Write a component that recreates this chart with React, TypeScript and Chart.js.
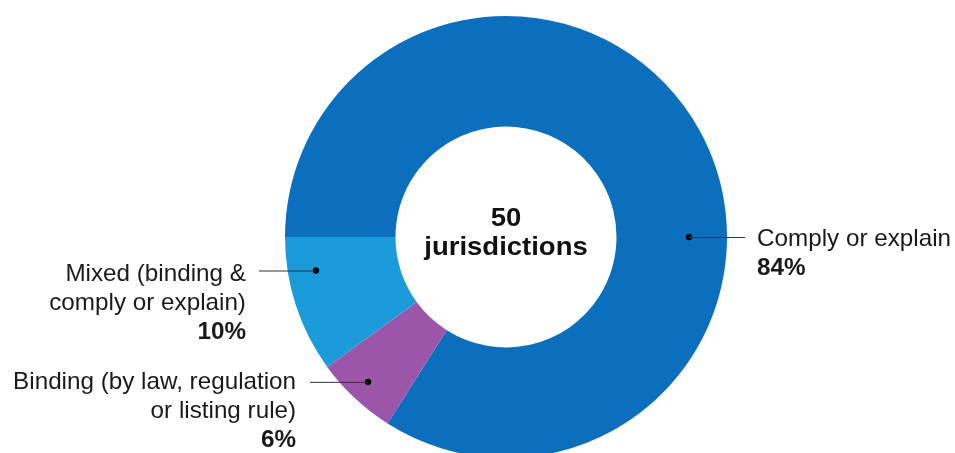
import React, { useEffect, useRef } from "react";
import { Chart, registerables } from "chart.js";

Chart.register(...registerables);

const categories = ["Comply or explain", "Binding", "Mixed"];
const values = [84, 6, 10];
const colors = ["#0B6FBE", "#9B56A9", "#1C9BDB"];
const labelLines = [
  ["Comply or explain"],
  ["Binding (by law, regulation", "or listing rule)"],
  ["Mixed (binding &", "comply or explain)"],
];
const centerLines = ["50", "jurisdictions"];

// label annotation layout: dot polar position (deg from +x, radius px), leader length, side
const labelLayout = [
  { angle: 0, r: 183, len: 56, side: "right", gap: 12, firstDy: 9 },
  { angle: 133.6, r: 200, len: 58, side: "left", gap: 14, firstDy: 7 },
  { angle: 170, r: 193, len: 57, side: "left", gap: 13, firstDy: 10 },
];

const FONT = "'Liberation Sans', Arial, sans-serif";

function stretchText(ctx: any, text: string, x: number, y: number, sx: number) {
  ctx.save();
  ctx.translate(x, y);
  ctx.scale(sx, 1);
  ctx.fillText(text, 0, 0);
  ctx.restore();
}

const labelPlugin = {
  id: "labels",
  afterDraw(chart: any) {
    const ctx = chart.ctx;
    const meta = chart.getDatasetMeta(0);
    const arc = meta.data[0];
    const cx = arc.x;
    const cy = arc.y;
    ctx.save();
    // center text
    ctx.fillStyle = "#111";
    ctx.font = `bold 25px ${FONT}`;
    ctx.textAlign = "center";
    ctx.textBaseline = "alphabetic";
    stretchText(ctx, centerLines[0], cx, cy - 11, 1.1);
    stretchText(ctx, centerLines[1], cx, cy + 18, 1.1);

    labelLayout.forEach((l, i) => {
      const a = (l.angle * Math.PI) / 180;
      const dx = cx + Math.cos(a) * l.r;
      const dy = cy + Math.sin(a) * l.r;
      ctx.fillStyle = "#000";
      ctx.beginPath();
      ctx.arc(dx, dy, 3.2, 0, Math.PI * 2);
      ctx.fill();
      const ex = l.side === "right" ? dx + l.len : dx - l.len;
      ctx.strokeStyle = "#333";
      ctx.lineWidth = 1;
      ctx.beginPath();
      ctx.moveTo(dx, dy + 0.5);
      ctx.lineTo(ex, dy + 0.5);
      ctx.stroke();
      const tx = l.side === "right" ? ex + l.gap : ex - l.gap;
      ctx.textAlign = l.side === "right" ? "left" : "right";
      ctx.fillStyle = "#1a1a1a";
      ctx.font = `24px ${FONT}`;
      let y = dy + l.firstDy;
      labelLines[i].forEach((line) => {
        stretchText(ctx, line, tx, y, 1.01);
        y += 29.5;
      });
      ctx.font = `bold 24px ${FONT}`;
      stretchText(ctx, values[i] + "%", tx, y - 1, 1.01);
    });
    ctx.restore();
  },
};

export default function App() {
  const ref = useRef<HTMLCanvasElement>(null);
  useEffect(() => {
    if (!ref.current) return;
    const chart = new Chart(ref.current, {
      type: "doughnut",
      data: {
        labels: categories,
        datasets: [
          {
            data: values,
            backgroundColor: colors,
            borderWidth: 0,
            radius: 221,
            cutout: "50%",
          },
        ],
      },
      options: {
        responsive: false,
        animation: false,
        rotation: 270,
        layout: { padding: { top: 21, bottom: 0, left: 57, right: 0 } },
        plugins: {
          legend: { display: false },
          tooltip: { enabled: false },
        },
      },
      plugins: [labelPlugin],
    });
    return () => chart.destroy();
  }, []);
  return (
    <div style={{ position: "absolute", left: 0, top: 0, width: 955, height: 453, background: "#fff" }}>
      <canvas ref={ref} width={955} height={453} style={{ width: 955, height: 453 }} />
    </div>
  );
}
